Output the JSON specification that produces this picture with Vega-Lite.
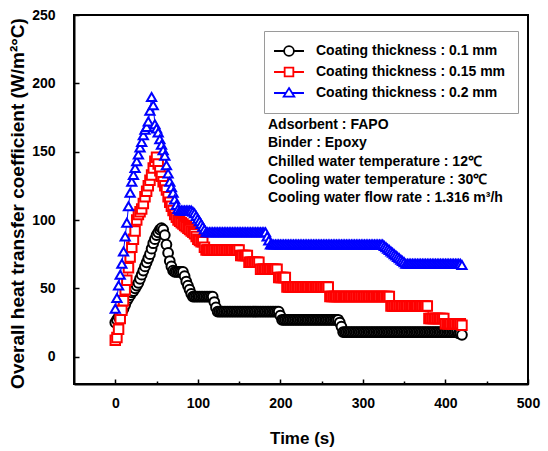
{
"$schema": "https://vega.github.io/schema/vega-lite/v6.json",
"width": 454, "height": 369,
"autosize": {"type": "none"},
"padding": {"left": 74, "top": 15, "right": 20, "bottom": 67},
"background": "white",
"config": {
"font": "Liberation Sans",
"view": {"stroke": "black", "strokeWidth": 2},
"axis": {"domainColor": "black", "domainWidth": 2, "tickColor": "black", "tickWidth": 1.5, "labelFont": "Liberation Sans", "labelFontWeight": "bold", "labelFontSize": 14, "labelColor": "black", "titleFont": "Liberation Sans", "titleFontWeight": "bold", "titleColor": "black", "grid": false, "labelFlush": false, "labelOverlap": false}
},
"datasets": {
"notes": [
{"t": 185, "v": 169.5, "label": "Adsorbent : FAPO"},
{"t": 185, "v": 156.1, "label": "Binder : Epoxy"},
{"t": 185, "v": 142.7, "label": "Chilled water temperature : 12℃"},
{"t": 185, "v": 129.3, "label": "Cooling water temperature : 30℃"},
{"t": 185, "v": 115.9, "label": "Cooling water flow rate : 1.316 m³/h"}
],
"pts": [
{"s":"0.1","t":0,"v":25},{"s":"0.1","t":2,"v":27},{"s":"0.1","t":4,"v":29},{"s":"0.1","t":6,"v":31},{"s":"0.1","t":8,"v":33},{"s":"0.1","t":10,"v":35},{"s":"0.1","t":12,"v":38},{"s":"0.1","t":14,"v":41},{"s":"0.1","t":16,"v":43},{"s":"0.1","t":18,"v":45},
{"s":"0.1","t":20,"v":47},{"s":"0.1","t":22,"v":48},{"s":"0.1","t":24,"v":50},{"s":"0.1","t":26,"v":52},{"s":"0.1","t":28,"v":54},{"s":"0.1","t":30,"v":57},{"s":"0.1","t":32,"v":60},{"s":"0.1","t":34,"v":63},{"s":"0.1","t":36,"v":66},{"s":"0.1","t":38,"v":69},
{"s":"0.1","t":40,"v":72},{"s":"0.1","t":42,"v":75},{"s":"0.1","t":44,"v":79},{"s":"0.1","t":46,"v":83},{"s":"0.1","t":48,"v":86},{"s":"0.1","t":50,"v":89},{"s":"0.1","t":52,"v":91},{"s":"0.1","t":54,"v":93},{"s":"0.1","t":56,"v":94},{"s":"0.1","t":58,"v":93},
{"s":"0.1","t":60,"v":89},{"s":"0.1","t":62,"v":82},{"s":"0.1","t":64,"v":76},{"s":"0.1","t":66,"v":70},{"s":"0.1","t":68,"v":66},{"s":"0.1","t":70,"v":63},{"s":"0.1","t":72,"v":62},{"s":"0.1","t":74,"v":62},{"s":"0.1","t":76,"v":62},{"s":"0.1","t":78,"v":62},
{"s":"0.1","t":80,"v":62},{"s":"0.1","t":82,"v":62},{"s":"0.1","t":84,"v":59},{"s":"0.1","t":86,"v":55},{"s":"0.1","t":88,"v":52},{"s":"0.1","t":90,"v":49},{"s":"0.1","t":92,"v":46},{"s":"0.1","t":94,"v":44},{"s":"0.1","t":96,"v":44},{"s":"0.1","t":98,"v":44},
{"s":"0.1","t":100,"v":44},{"s":"0.1","t":102,"v":44},{"s":"0.1","t":104,"v":44},{"s":"0.1","t":106,"v":44},{"s":"0.1","t":108,"v":44},{"s":"0.1","t":110,"v":44},{"s":"0.1","t":112,"v":44},{"s":"0.1","t":114,"v":44},{"s":"0.1","t":116,"v":44},{"s":"0.1","t":118,"v":44},
{"s":"0.1","t":120,"v":40},{"s":"0.1","t":122,"v":36},{"s":"0.1","t":124,"v":33},{"s":"0.1","t":126,"v":33},{"s":"0.1","t":128,"v":33},{"s":"0.1","t":130,"v":33},{"s":"0.1","t":132,"v":33},{"s":"0.1","t":134,"v":33},{"s":"0.1","t":136,"v":33},{"s":"0.1","t":138,"v":33},
{"s":"0.1","t":140,"v":33},{"s":"0.1","t":142,"v":33},{"s":"0.1","t":144,"v":33},{"s":"0.1","t":146,"v":33},{"s":"0.1","t":148,"v":33},{"s":"0.1","t":150,"v":33},{"s":"0.1","t":152,"v":33},{"s":"0.1","t":154,"v":33},{"s":"0.1","t":156,"v":33},{"s":"0.1","t":158,"v":33},
{"s":"0.1","t":160,"v":33},{"s":"0.1","t":162,"v":33},{"s":"0.1","t":164,"v":33},{"s":"0.1","t":166,"v":33},{"s":"0.1","t":168,"v":33},{"s":"0.1","t":170,"v":33},{"s":"0.1","t":172,"v":33},{"s":"0.1","t":174,"v":33},{"s":"0.1","t":176,"v":33},{"s":"0.1","t":178,"v":33},
{"s":"0.1","t":180,"v":33},{"s":"0.1","t":182,"v":33},{"s":"0.1","t":184,"v":33},{"s":"0.1","t":186,"v":33},{"s":"0.1","t":188,"v":33},{"s":"0.1","t":190,"v":33},{"s":"0.1","t":192,"v":33},{"s":"0.1","t":194,"v":33},{"s":"0.1","t":196,"v":33},{"s":"0.1","t":198,"v":33},
{"s":"0.1","t":200,"v":30},{"s":"0.1","t":202,"v":27},{"s":"0.1","t":204,"v":27},{"s":"0.1","t":206,"v":27},{"s":"0.1","t":208,"v":27},{"s":"0.1","t":210,"v":27},{"s":"0.1","t":212,"v":27},{"s":"0.1","t":214,"v":27},{"s":"0.1","t":216,"v":27},{"s":"0.1","t":218,"v":27},
{"s":"0.1","t":220,"v":27},{"s":"0.1","t":222,"v":27},{"s":"0.1","t":224,"v":27},{"s":"0.1","t":226,"v":27},{"s":"0.1","t":228,"v":27},{"s":"0.1","t":230,"v":27},{"s":"0.1","t":232,"v":27},{"s":"0.1","t":234,"v":27},{"s":"0.1","t":236,"v":27},{"s":"0.1","t":238,"v":27},
{"s":"0.1","t":240,"v":27},{"s":"0.1","t":242,"v":27},{"s":"0.1","t":244,"v":27},{"s":"0.1","t":246,"v":27},{"s":"0.1","t":248,"v":27},{"s":"0.1","t":250,"v":27},{"s":"0.1","t":252,"v":27},{"s":"0.1","t":254,"v":27},{"s":"0.1","t":256,"v":27},{"s":"0.1","t":258,"v":27},
{"s":"0.1","t":260,"v":27},{"s":"0.1","t":262,"v":27},{"s":"0.1","t":264,"v":27},{"s":"0.1","t":266,"v":27},{"s":"0.1","t":268,"v":27},{"s":"0.1","t":270,"v":27},{"s":"0.1","t":272,"v":25},{"s":"0.1","t":274,"v":22},{"s":"0.1","t":276,"v":18},{"s":"0.1","t":278,"v":18},
{"s":"0.1","t":280,"v":18},{"s":"0.1","t":282,"v":18},{"s":"0.1","t":284,"v":18},{"s":"0.1","t":286,"v":18},{"s":"0.1","t":288,"v":18},{"s":"0.1","t":290,"v":18},{"s":"0.1","t":292,"v":18},{"s":"0.1","t":294,"v":18},{"s":"0.1","t":296,"v":18},{"s":"0.1","t":298,"v":18},
{"s":"0.1","t":300,"v":18},{"s":"0.1","t":302,"v":18},{"s":"0.1","t":304,"v":18},{"s":"0.1","t":306,"v":18},{"s":"0.1","t":308,"v":18},{"s":"0.1","t":310,"v":18},{"s":"0.1","t":312,"v":18},{"s":"0.1","t":314,"v":18},{"s":"0.1","t":316,"v":18},{"s":"0.1","t":318,"v":18},
{"s":"0.1","t":320,"v":18},{"s":"0.1","t":322,"v":18},{"s":"0.1","t":324,"v":18},{"s":"0.1","t":326,"v":18},{"s":"0.1","t":328,"v":18},{"s":"0.1","t":330,"v":18},{"s":"0.1","t":332,"v":18},{"s":"0.1","t":334,"v":18},{"s":"0.1","t":336,"v":18},{"s":"0.1","t":338,"v":18},
{"s":"0.1","t":340,"v":18},{"s":"0.1","t":342,"v":18},{"s":"0.1","t":344,"v":18},{"s":"0.1","t":346,"v":18},{"s":"0.1","t":348,"v":18},{"s":"0.1","t":350,"v":18},{"s":"0.1","t":352,"v":18},{"s":"0.1","t":354,"v":18},{"s":"0.1","t":356,"v":18},{"s":"0.1","t":358,"v":18},
{"s":"0.1","t":360,"v":18},{"s":"0.1","t":362,"v":18},{"s":"0.1","t":364,"v":18},{"s":"0.1","t":366,"v":18},{"s":"0.1","t":368,"v":18},{"s":"0.1","t":370,"v":18},{"s":"0.1","t":372,"v":18},{"s":"0.1","t":374,"v":18},{"s":"0.1","t":376,"v":18},{"s":"0.1","t":378,"v":18},
{"s":"0.1","t":380,"v":18},{"s":"0.1","t":382,"v":18},{"s":"0.1","t":384,"v":18},{"s":"0.1","t":386,"v":18},{"s":"0.1","t":388,"v":18},{"s":"0.1","t":390,"v":18},{"s":"0.1","t":392,"v":18},{"s":"0.1","t":394,"v":18},{"s":"0.1","t":396,"v":18},{"s":"0.1","t":398,"v":18},
{"s":"0.1","t":400,"v":18},{"s":"0.1","t":402,"v":18},{"s":"0.1","t":404,"v":18},{"s":"0.1","t":406,"v":18},{"s":"0.1","t":408,"v":18},{"s":"0.1","t":410,"v":18},{"s":"0.1","t":412,"v":18},{"s":"0.1","t":414,"v":18},{"s":"0.1","t":416,"v":17},{"s":"0.1","t":418,"v":17},
{"s":"0.1","t":420,"v":16},
{"s":"0.15","t":0,"v":12},{"s":"0.15","t":2,"v":14},{"s":"0.15","t":4,"v":20},{"s":"0.15","t":6,"v":28},{"s":"0.15","t":8,"v":34},{"s":"0.15","t":10,"v":41},{"s":"0.15","t":12,"v":49},{"s":"0.15","t":14,"v":56},{"s":"0.15","t":16,"v":65},{"s":"0.15","t":18,"v":73},
{"s":"0.15","t":20,"v":80},{"s":"0.15","t":22,"v":86},{"s":"0.15","t":24,"v":92},{"s":"0.15","t":26,"v":100},{"s":"0.15","t":28,"v":104},{"s":"0.15","t":30,"v":106},{"s":"0.15","t":32,"v":108},{"s":"0.15","t":34,"v":112},{"s":"0.15","t":36,"v":117},{"s":"0.15","t":38,"v":121},
{"s":"0.15","t":40,"v":125},{"s":"0.15","t":42,"v":129},{"s":"0.15","t":44,"v":133},{"s":"0.15","t":46,"v":138},{"s":"0.15","t":48,"v":143},{"s":"0.15","t":50,"v":146},{"s":"0.15","t":52,"v":141},{"s":"0.15","t":54,"v":136},{"s":"0.15","t":56,"v":132},{"s":"0.15","t":58,"v":128},
{"s":"0.15","t":60,"v":125},{"s":"0.15","t":62,"v":122},{"s":"0.15","t":64,"v":117},{"s":"0.15","t":66,"v":113},{"s":"0.15","t":68,"v":110},{"s":"0.15","t":70,"v":107},{"s":"0.15","t":72,"v":104},{"s":"0.15","t":74,"v":102},{"s":"0.15","t":76,"v":100},{"s":"0.15","t":78,"v":99},
{"s":"0.15","t":80,"v":98},{"s":"0.15","t":82,"v":97},{"s":"0.15","t":84,"v":96},{"s":"0.15","t":86,"v":95},{"s":"0.15","t":88,"v":94},{"s":"0.15","t":90,"v":93},{"s":"0.15","t":92,"v":92},{"s":"0.15","t":94,"v":91},{"s":"0.15","t":96,"v":90},{"s":"0.15","t":98,"v":88},
{"s":"0.15","t":100,"v":86},{"s":"0.15","t":102,"v":85},{"s":"0.15","t":104,"v":84},{"s":"0.15","t":106,"v":84},{"s":"0.15","t":108,"v":80},{"s":"0.15","t":110,"v":78},{"s":"0.15","t":112,"v":78},{"s":"0.15","t":114,"v":78},{"s":"0.15","t":116,"v":78},{"s":"0.15","t":118,"v":78},
{"s":"0.15","t":120,"v":78},{"s":"0.15","t":122,"v":78},{"s":"0.15","t":124,"v":78},{"s":"0.15","t":126,"v":78},{"s":"0.15","t":128,"v":78},{"s":"0.15","t":130,"v":78},{"s":"0.15","t":132,"v":78},{"s":"0.15","t":134,"v":78},{"s":"0.15","t":136,"v":78},{"s":"0.15","t":138,"v":78},
{"s":"0.15","t":140,"v":78},{"s":"0.15","t":142,"v":78},{"s":"0.15","t":144,"v":78},{"s":"0.15","t":146,"v":78},{"s":"0.15","t":148,"v":78},{"s":"0.15","t":150,"v":78},{"s":"0.15","t":152,"v":74},{"s":"0.15","t":154,"v":74},{"s":"0.15","t":156,"v":74},{"s":"0.15","t":158,"v":74},
{"s":"0.15","t":160,"v":74},{"s":"0.15","t":162,"v":69},{"s":"0.15","t":164,"v":69},{"s":"0.15","t":166,"v":69},{"s":"0.15","t":168,"v":69},{"s":"0.15","t":170,"v":69},{"s":"0.15","t":172,"v":69},{"s":"0.15","t":174,"v":69},{"s":"0.15","t":176,"v":64},{"s":"0.15","t":178,"v":64},
{"s":"0.15","t":180,"v":64},{"s":"0.15","t":182,"v":64},{"s":"0.15","t":184,"v":64},{"s":"0.15","t":186,"v":64},{"s":"0.15","t":188,"v":64},{"s":"0.15","t":190,"v":64},{"s":"0.15","t":192,"v":64},{"s":"0.15","t":194,"v":64},{"s":"0.15","t":196,"v":64},{"s":"0.15","t":198,"v":58},
{"s":"0.15","t":200,"v":58},{"s":"0.15","t":202,"v":58},{"s":"0.15","t":204,"v":58},{"s":"0.15","t":206,"v":58},{"s":"0.15","t":208,"v":51},{"s":"0.15","t":210,"v":51},{"s":"0.15","t":212,"v":51},{"s":"0.15","t":214,"v":51},{"s":"0.15","t":216,"v":51},{"s":"0.15","t":218,"v":51},
{"s":"0.15","t":220,"v":51},{"s":"0.15","t":222,"v":51},{"s":"0.15","t":224,"v":51},{"s":"0.15","t":226,"v":51},{"s":"0.15","t":228,"v":51},{"s":"0.15","t":230,"v":51},{"s":"0.15","t":232,"v":51},{"s":"0.15","t":234,"v":51},{"s":"0.15","t":236,"v":51},{"s":"0.15","t":238,"v":51},
{"s":"0.15","t":240,"v":51},{"s":"0.15","t":242,"v":51},{"s":"0.15","t":244,"v":51},{"s":"0.15","t":246,"v":51},{"s":"0.15","t":248,"v":51},{"s":"0.15","t":250,"v":51},{"s":"0.15","t":252,"v":51},{"s":"0.15","t":254,"v":51},{"s":"0.15","t":256,"v":51},{"s":"0.15","t":258,"v":51},
{"s":"0.15","t":260,"v":44},{"s":"0.15","t":262,"v":44},{"s":"0.15","t":264,"v":44},{"s":"0.15","t":266,"v":44},{"s":"0.15","t":268,"v":44},{"s":"0.15","t":270,"v":44},{"s":"0.15","t":272,"v":44},{"s":"0.15","t":274,"v":44},{"s":"0.15","t":276,"v":44},{"s":"0.15","t":278,"v":44},
{"s":"0.15","t":280,"v":44},{"s":"0.15","t":282,"v":44},{"s":"0.15","t":284,"v":44},{"s":"0.15","t":286,"v":44},{"s":"0.15","t":288,"v":44},{"s":"0.15","t":290,"v":44},{"s":"0.15","t":292,"v":44},{"s":"0.15","t":294,"v":44},{"s":"0.15","t":296,"v":44},{"s":"0.15","t":298,"v":44},
{"s":"0.15","t":300,"v":44},{"s":"0.15","t":302,"v":44},{"s":"0.15","t":304,"v":44},{"s":"0.15","t":306,"v":44},{"s":"0.15","t":308,"v":44},{"s":"0.15","t":310,"v":44},{"s":"0.15","t":312,"v":44},{"s":"0.15","t":314,"v":44},{"s":"0.15","t":316,"v":44},{"s":"0.15","t":318,"v":44},
{"s":"0.15","t":320,"v":44},{"s":"0.15","t":322,"v":44},{"s":"0.15","t":324,"v":44},{"s":"0.15","t":326,"v":44},{"s":"0.15","t":328,"v":44},{"s":"0.15","t":330,"v":44},{"s":"0.15","t":332,"v":44},{"s":"0.15","t":334,"v":37},{"s":"0.15","t":336,"v":37},{"s":"0.15","t":338,"v":37},
{"s":"0.15","t":340,"v":37},{"s":"0.15","t":342,"v":37},{"s":"0.15","t":344,"v":37},{"s":"0.15","t":346,"v":37},{"s":"0.15","t":348,"v":37},{"s":"0.15","t":350,"v":37},{"s":"0.15","t":352,"v":37},{"s":"0.15","t":354,"v":37},{"s":"0.15","t":356,"v":37},{"s":"0.15","t":358,"v":37},
{"s":"0.15","t":360,"v":37},{"s":"0.15","t":362,"v":37},{"s":"0.15","t":364,"v":37},{"s":"0.15","t":366,"v":37},{"s":"0.15","t":368,"v":37},{"s":"0.15","t":370,"v":37},{"s":"0.15","t":372,"v":37},{"s":"0.15","t":374,"v":37},{"s":"0.15","t":376,"v":37},{"s":"0.15","t":378,"v":37},
{"s":"0.15","t":380,"v":28},{"s":"0.15","t":382,"v":28},{"s":"0.15","t":384,"v":28},{"s":"0.15","t":386,"v":28},{"s":"0.15","t":388,"v":28},{"s":"0.15","t":390,"v":28},{"s":"0.15","t":392,"v":28},{"s":"0.15","t":394,"v":28},{"s":"0.15","t":396,"v":28},{"s":"0.15","t":398,"v":28},
{"s":"0.15","t":400,"v":24},{"s":"0.15","t":402,"v":24},{"s":"0.15","t":404,"v":24},{"s":"0.15","t":406,"v":24},{"s":"0.15","t":408,"v":24},{"s":"0.15","t":410,"v":24},{"s":"0.15","t":412,"v":24},{"s":"0.15","t":414,"v":24},{"s":"0.15","t":416,"v":24},{"s":"0.15","t":418,"v":24},
{"s":"0.15","t":420,"v":23},
{"s":"0.2","t":0,"v":35},{"s":"0.2","t":2,"v":43},{"s":"0.2","t":4,"v":52},{"s":"0.2","t":6,"v":60},{"s":"0.2","t":8,"v":68},{"s":"0.2","t":10,"v":77},{"s":"0.2","t":12,"v":88},{"s":"0.2","t":14,"v":98},{"s":"0.2","t":16,"v":110},{"s":"0.2","t":18,"v":120},
{"s":"0.2","t":20,"v":128},{"s":"0.2","t":22,"v":133},{"s":"0.2","t":24,"v":138},{"s":"0.2","t":26,"v":143},{"s":"0.2","t":28,"v":148},{"s":"0.2","t":30,"v":153},{"s":"0.2","t":32,"v":157},{"s":"0.2","t":34,"v":162},{"s":"0.2","t":36,"v":166},{"s":"0.2","t":38,"v":168},
{"s":"0.2","t":40,"v":172},{"s":"0.2","t":42,"v":180},{"s":"0.2","t":44,"v":190},{"s":"0.2","t":46,"v":184},{"s":"0.2","t":48,"v":170},{"s":"0.2","t":50,"v":167},{"s":"0.2","t":52,"v":164},{"s":"0.2","t":54,"v":159},{"s":"0.2","t":56,"v":155},{"s":"0.2","t":58,"v":151},
{"s":"0.2","t":60,"v":147},{"s":"0.2","t":62,"v":140},{"s":"0.2","t":64,"v":134},{"s":"0.2","t":66,"v":128},{"s":"0.2","t":68,"v":124},{"s":"0.2","t":70,"v":120},{"s":"0.2","t":72,"v":115},{"s":"0.2","t":74,"v":111},{"s":"0.2","t":76,"v":108},{"s":"0.2","t":78,"v":107},
{"s":"0.2","t":80,"v":107},{"s":"0.2","t":82,"v":107},{"s":"0.2","t":84,"v":107},{"s":"0.2","t":86,"v":107},{"s":"0.2","t":88,"v":107},{"s":"0.2","t":90,"v":107},{"s":"0.2","t":92,"v":107},{"s":"0.2","t":94,"v":106},{"s":"0.2","t":96,"v":105},{"s":"0.2","t":98,"v":103},
{"s":"0.2","t":100,"v":101},{"s":"0.2","t":102,"v":99},{"s":"0.2","t":104,"v":97},{"s":"0.2","t":106,"v":95},{"s":"0.2","t":108,"v":93},{"s":"0.2","t":110,"v":91},{"s":"0.2","t":112,"v":91},{"s":"0.2","t":114,"v":91},{"s":"0.2","t":116,"v":91},{"s":"0.2","t":118,"v":91},
{"s":"0.2","t":120,"v":91},{"s":"0.2","t":122,"v":91},{"s":"0.2","t":124,"v":91},{"s":"0.2","t":126,"v":91},{"s":"0.2","t":128,"v":91},{"s":"0.2","t":130,"v":91},{"s":"0.2","t":132,"v":91},{"s":"0.2","t":134,"v":91},{"s":"0.2","t":136,"v":91},{"s":"0.2","t":138,"v":91},
{"s":"0.2","t":140,"v":91},{"s":"0.2","t":142,"v":91},{"s":"0.2","t":144,"v":91},{"s":"0.2","t":146,"v":91},{"s":"0.2","t":148,"v":91},{"s":"0.2","t":150,"v":91},{"s":"0.2","t":152,"v":91},{"s":"0.2","t":154,"v":91},{"s":"0.2","t":156,"v":91},{"s":"0.2","t":158,"v":91},
{"s":"0.2","t":160,"v":91},{"s":"0.2","t":162,"v":91},{"s":"0.2","t":164,"v":91},{"s":"0.2","t":166,"v":91},{"s":"0.2","t":168,"v":91},{"s":"0.2","t":170,"v":91},{"s":"0.2","t":172,"v":91},{"s":"0.2","t":174,"v":91},{"s":"0.2","t":176,"v":91},{"s":"0.2","t":178,"v":91},
{"s":"0.2","t":180,"v":91},{"s":"0.2","t":182,"v":91},{"s":"0.2","t":184,"v":88},{"s":"0.2","t":186,"v":85},{"s":"0.2","t":188,"v":82},{"s":"0.2","t":190,"v":82},{"s":"0.2","t":192,"v":82},{"s":"0.2","t":194,"v":82},{"s":"0.2","t":196,"v":82},{"s":"0.2","t":198,"v":82},
{"s":"0.2","t":200,"v":82},{"s":"0.2","t":202,"v":82},{"s":"0.2","t":204,"v":82},{"s":"0.2","t":206,"v":82},{"s":"0.2","t":208,"v":82},{"s":"0.2","t":210,"v":82},{"s":"0.2","t":212,"v":82},{"s":"0.2","t":214,"v":82},{"s":"0.2","t":216,"v":82},{"s":"0.2","t":218,"v":82},
{"s":"0.2","t":220,"v":82},{"s":"0.2","t":222,"v":82},{"s":"0.2","t":224,"v":82},{"s":"0.2","t":226,"v":82},{"s":"0.2","t":228,"v":82},{"s":"0.2","t":230,"v":82},{"s":"0.2","t":232,"v":82},{"s":"0.2","t":234,"v":82},{"s":"0.2","t":236,"v":82},{"s":"0.2","t":238,"v":82},
{"s":"0.2","t":240,"v":82},{"s":"0.2","t":242,"v":82},{"s":"0.2","t":244,"v":82},{"s":"0.2","t":246,"v":82},{"s":"0.2","t":248,"v":82},{"s":"0.2","t":250,"v":82},{"s":"0.2","t":252,"v":82},{"s":"0.2","t":254,"v":82},{"s":"0.2","t":256,"v":82},{"s":"0.2","t":258,"v":82},
{"s":"0.2","t":260,"v":82},{"s":"0.2","t":262,"v":82},{"s":"0.2","t":264,"v":82},{"s":"0.2","t":266,"v":82},{"s":"0.2","t":268,"v":82},{"s":"0.2","t":270,"v":82},{"s":"0.2","t":272,"v":82},{"s":"0.2","t":274,"v":82},{"s":"0.2","t":276,"v":82},{"s":"0.2","t":278,"v":82},
{"s":"0.2","t":280,"v":82},{"s":"0.2","t":282,"v":82},{"s":"0.2","t":284,"v":82},{"s":"0.2","t":286,"v":82},{"s":"0.2","t":288,"v":82},{"s":"0.2","t":290,"v":82},{"s":"0.2","t":292,"v":82},{"s":"0.2","t":294,"v":82},{"s":"0.2","t":296,"v":82},{"s":"0.2","t":298,"v":82},
{"s":"0.2","t":300,"v":82},{"s":"0.2","t":302,"v":82},{"s":"0.2","t":304,"v":82},{"s":"0.2","t":306,"v":82},{"s":"0.2","t":308,"v":82},{"s":"0.2","t":310,"v":82},{"s":"0.2","t":312,"v":82},{"s":"0.2","t":314,"v":82},{"s":"0.2","t":316,"v":82},{"s":"0.2","t":318,"v":82},
{"s":"0.2","t":320,"v":82},{"s":"0.2","t":322,"v":82},{"s":"0.2","t":324,"v":82},{"s":"0.2","t":326,"v":81},{"s":"0.2","t":328,"v":80},{"s":"0.2","t":330,"v":79},{"s":"0.2","t":332,"v":78},{"s":"0.2","t":334,"v":77},{"s":"0.2","t":336,"v":76},{"s":"0.2","t":338,"v":75},
{"s":"0.2","t":340,"v":74},{"s":"0.2","t":342,"v":73},{"s":"0.2","t":344,"v":72},{"s":"0.2","t":346,"v":71},{"s":"0.2","t":348,"v":70},{"s":"0.2","t":350,"v":69},{"s":"0.2","t":352,"v":68},{"s":"0.2","t":354,"v":68},{"s":"0.2","t":356,"v":68},{"s":"0.2","t":358,"v":68},
{"s":"0.2","t":360,"v":68},{"s":"0.2","t":362,"v":68},{"s":"0.2","t":364,"v":68},{"s":"0.2","t":366,"v":68},{"s":"0.2","t":368,"v":68},{"s":"0.2","t":370,"v":68},{"s":"0.2","t":372,"v":68},{"s":"0.2","t":374,"v":68},{"s":"0.2","t":376,"v":68},{"s":"0.2","t":378,"v":68},
{"s":"0.2","t":380,"v":68},{"s":"0.2","t":382,"v":68},{"s":"0.2","t":384,"v":68},{"s":"0.2","t":386,"v":68},{"s":"0.2","t":388,"v":68},{"s":"0.2","t":390,"v":68},{"s":"0.2","t":392,"v":68},{"s":"0.2","t":394,"v":68},{"s":"0.2","t":396,"v":68},{"s":"0.2","t":398,"v":68},
{"s":"0.2","t":400,"v":68},{"s":"0.2","t":402,"v":68},{"s":"0.2","t":404,"v":68},{"s":"0.2","t":406,"v":68},{"s":"0.2","t":408,"v":68},{"s":"0.2","t":410,"v":68},{"s":"0.2","t":412,"v":68},{"s":"0.2","t":414,"v":68},{"s":"0.2","t":416,"v":68},{"s":"0.2","t":418,"v":68},
{"s":"0.2","t":420,"v":67}
]
},
"layer": [
{
"data": {"name": "pts"},
"mark": {"type": "line", "strokeWidth": 1},
"encoding": {
"x": {"field": "t", "type": "quantitative", "scale": {"domain": [-50, 500], "nice": false, "zero": false},
 "axis": {"values": [0,50,100,150,200,250,300,350,400,450,500], "tickSize": {"condition": {"test": "datum.value % 100 === 0", "value": -5}, "value": -3}, "labelExpr": "datum.value % 100 === 0 ? datum.label : ''", "labelPadding": 17, "title": "Time (s)", "titleFontSize": 17, "titleX": 228, "titleY": 54, "titleAlign": "center", "titleBaseline": "middle"}},
"y": {"field": "v", "type": "quantitative", "scale": {"domain": [-20, 250], "nice": false, "zero": false},
 "axis": {"values": [0,25,50,75,100,125,150,175,200,225,250], "tickSize": {"condition": {"test": "datum.value % 50 === 0", "value": -5}, "value": -3}, "labelExpr": "datum.value % 50 === 0 ? datum.label : ''", "labelPadding": 24, "title": "Overall heat transfer coefficient (W/m²°C)", "titleFontSize": 19, "titleAngle": 270, "titleX": -57, "titleY": 188, "titleAlign": "center", "titleBaseline": "middle"}},
"color": {"field": "s", "type": "nominal", "scale": {"domain": ["0.1", "0.15", "0.2"], "range": ["#000000", "#ff0000", "#0000ff"]}, "legend": null}
}
},
{
"data": {"name": "pts"},
"mark": {"type": "point", "filled": false, "fill": "white", "strokeWidth": 2, "opacity": 1},
"encoding": {
"x": {"field": "t", "type": "quantitative"},
"y": {"field": "v", "type": "quantitative"},
"color": {"field": "s", "type": "nominal", "scale": {"domain": ["0.1", "0.15", "0.2"], "range": ["#000000", "#ff0000", "#0000ff"]}, "legend": null},
"shape": {"field": "s", "type": "nominal", "scale": {"domain": ["0.1", "0.15", "0.2"], "range": ["circle", "square", "triangle-up"]}, "legend": null},
"size": {"field": "s", "type": "nominal", "scale": {"domain": ["0.1", "0.15", "0.2"], "range": [95, 85, 135]}, "legend": null}
}
},
{
"data": {"name": "pts"},
"transform": [{"filter": "datum.t === 0"}],
"mark": {"type": "point", "filled": false, "fill": "white", "strokeWidth": 1.8, "opacity": 0, "size": 196},
"encoding": {
"x": {"field": "t", "type": "quantitative"},
"y": {"field": "v", "type": "quantitative"},
"color": {"field": "s", "type": "nominal", "scale": {"domain": ["0.1", "0.15", "0.2"], "range": ["#000000", "#ff0000", "#0000ff"]},
 "legend": {"title": null, "orient": "none", "legendX": 190, "legendY": 16, "padding": 12, "strokeColor": "#9a9a9a", "fillColor": "white", "labelFont": "Liberation Sans", "labelFontSize": 14, "labelFontWeight": "bold", "labelColor": "black", "labelLimit": 400, "labelExpr": "'Coating thickness : ' + datum.label + ' mm'", "symbolSize": 196, "symbolStrokeWidth": 1.8, "symbolOffset": 5, "labelOffset": 19, "rowPadding": 4, "encode": {"symbols": {"update": {"opacity": {"value": 1}, "fill": {"value": "white"}, "size": {"value": 196}}}, "legend": {"update": {"strokeWidth": {"value": 1.5}}}}}},
"shape": {"field": "s", "type": "nominal", "scale": {"domain": ["0.1", "0.15", "0.2"], "range": ["M-2.14,0H-0.7M0.7,0H2.14M-0.7,0A0.7,0.7,0,1,0,0.7,0A0.7,0.7,0,1,0,-0.7,0Z", "M-2.14,0H-0.62M0.62,0H2.14M-0.62,-0.62H0.62V0.62H-0.62Z", "M-2.14,0H-0.43M0.43,0H2.14M0,-0.7L0.76,0.52H-0.76Z"]},
 "legend": {"title": null, "orient": "none", "legendX": 190, "legendY": 16, "padding": 12, "strokeColor": "#9a9a9a", "fillColor": "white", "labelFont": "Liberation Sans", "labelFontSize": 14, "labelFontWeight": "bold", "labelColor": "black", "labelLimit": 400, "labelExpr": "'Coating thickness : ' + datum.label + ' mm'", "symbolSize": 196, "symbolStrokeWidth": 1.8, "symbolOffset": 5, "labelOffset": 19, "rowPadding": 4, "encode": {"symbols": {"update": {"opacity": {"value": 1}, "fill": {"value": "white"}, "size": {"value": 196}}}, "legend": {"update": {"strokeWidth": {"value": 1.5}}}}}}
}
},
{
"data": {"name": "notes"},
"mark": {"type": "text", "align": "left", "baseline": "middle", "font": "Liberation Sans", "fontSize": 14, "fontWeight": "bold", "color": "black"},
"encoding": {
"x": {"field": "t", "type": "quantitative"},
"y": {"field": "v", "type": "quantitative"},
"text": {"field": "label", "type": "nominal"}
}
}
],
"resolve": {"scale": {"color": "independent", "shape": "independent", "size": "independent"}}
}
